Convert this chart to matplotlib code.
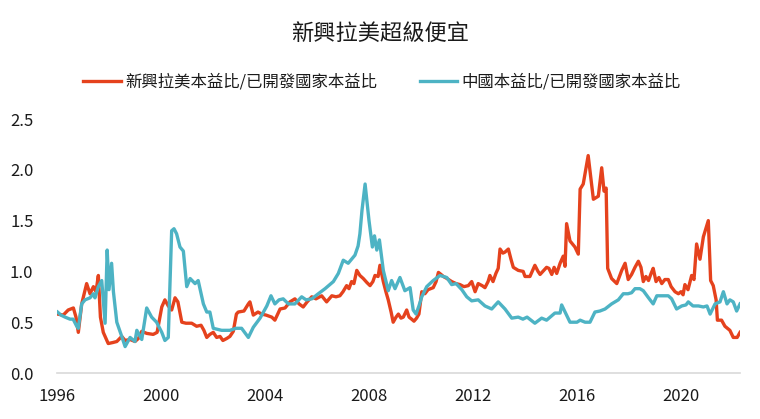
import matplotlib
matplotlib.use('Agg')
import matplotlib.pyplot as plt

plt.rcParams['font.family'] = ['Noto Sans CJK TC', 'DejaVu Sans']

# 新興拉美本益比/已開發國家本益比 (year, ratio)
latam_year = [1996.02, 1996.24, 1996.43, 1996.63, 1996.73, 1996.82, 1996.95, 1997.14, 1997.27, 1997.40,
              1997.50, 1997.59, 1997.67, 1997.78, 1997.97, 1998.15, 1998.30, 1998.49, 1998.62, 1998.81,
              1999.00, 1999.13, 1999.26, 1999.45, 1999.70, 1999.85, 2000.03, 2000.15, 2000.28, 2000.41,
              2000.54, 2000.65, 2000.80, 2000.96, 2001.18, 2001.37, 2001.54, 2001.65, 2001.76, 2001.88,
              2002.01, 2002.14, 2002.27, 2002.38, 2002.53, 2002.65, 2002.78, 2002.90, 2002.97, 2003.19,
              2003.36, 2003.42, 2003.55, 2003.73, 2003.87, 2004.04, 2004.26, 2004.38, 2004.58, 2004.77,
              2004.96, 2005.15, 2005.31, 2005.47, 2005.62, 2005.80, 2005.96, 2006.18, 2006.37, 2006.57,
              2006.73, 2006.88, 2007.00, 2007.14, 2007.23, 2007.33, 2007.42, 2007.53, 2007.65, 2007.78,
              2007.92, 2008.04, 2008.15, 2008.23, 2008.35, 2008.42, 2008.55, 2008.65, 2008.74, 2008.85,
              2008.93, 2009.04, 2009.13, 2009.23, 2009.32, 2009.45, 2009.54, 2009.64, 2009.73, 2009.83,
              2009.92, 2010.03, 2010.15, 2010.27, 2010.47, 2010.58, 2010.67, 2010.77, 2010.86, 2011.00,
              2011.18, 2011.35, 2011.50, 2011.65, 2011.82, 2011.95, 2012.08, 2012.20, 2012.35, 2012.46,
              2012.58, 2012.65, 2012.77, 2012.88, 2012.97, 2013.04, 2013.15, 2013.23, 2013.36, 2013.46,
              2013.55, 2013.74, 2013.93, 2014.00, 2014.19, 2014.38, 2014.50, 2014.58, 2014.83, 2014.92,
              2015.03, 2015.12, 2015.22, 2015.35, 2015.47, 2015.54, 2015.60, 2015.73, 2015.92, 2016.05,
              2016.12, 2016.24, 2016.43, 2016.63, 2016.82, 2016.95, 2017.04, 2017.12, 2017.18, 2017.33,
              2017.53, 2017.72, 2017.85, 2017.97, 2018.10, 2018.23, 2018.36, 2018.46, 2018.55, 2018.65,
              2018.75, 2018.85, 2018.93, 2019.04, 2019.15, 2019.26, 2019.38, 2019.51, 2019.62, 2019.77,
              2019.90, 2020.00, 2020.08, 2020.15, 2020.27, 2020.41, 2020.50, 2020.60, 2020.73, 2020.86,
              2021.05, 2021.14, 2021.24, 2021.35, 2021.40, 2021.56, 2021.69, 2021.88, 2022.01, 2022.16,
              2022.27]
latam_pe = [0.58, 0.57, 0.62, 0.64, 0.55, 0.40, 0.68, 0.88, 0.78, 0.85,
            0.80, 0.96, 0.55, 0.40, 0.29, 0.30, 0.31, 0.36, 0.32, 0.33,
            0.31, 0.34, 0.41, 0.39, 0.38, 0.40, 0.65, 0.72, 0.66, 0.62,
            0.74, 0.70, 0.50, 0.49, 0.49, 0.46, 0.47, 0.42, 0.35, 0.38,
            0.40, 0.35, 0.36, 0.32, 0.34, 0.36, 0.41, 0.58, 0.60, 0.61,
            0.68, 0.70, 0.57, 0.60, 0.58, 0.57, 0.55, 0.52, 0.63, 0.64,
            0.70, 0.73, 0.68, 0.65, 0.70, 0.75, 0.73, 0.76, 0.70, 0.76,
            0.75, 0.76, 0.80, 0.86, 0.83, 0.90, 0.88, 1.01, 0.96, 0.93,
            0.89, 0.86, 0.90, 0.96, 0.95, 1.06, 0.90, 0.80, 0.72, 0.60,
            0.50, 0.55, 0.58, 0.54, 0.55, 0.62, 0.55, 0.53, 0.51, 0.54,
            0.58, 0.80, 0.78, 0.82, 0.84, 0.90, 0.99, 0.97, 0.95, 0.93,
            0.90, 0.88, 0.87, 0.85, 0.86, 0.90, 0.80, 0.88, 0.86, 0.84,
            0.90, 0.96, 0.90, 0.98, 1.03, 1.22, 1.18, 1.19, 1.22, 1.12,
            1.04, 1.01, 1.00, 0.95, 0.95, 1.06, 1.00, 0.97, 1.04, 1.03,
            0.97, 1.04, 0.98, 1.08, 1.15, 1.05, 1.47, 1.30, 1.24, 1.17,
            1.81, 1.86, 2.14, 1.71, 1.74, 2.02, 1.79, 1.82, 1.03, 0.93,
            0.88, 1.01, 1.08, 0.92, 0.97, 1.04, 1.10, 1.04, 0.90, 0.95,
            0.91, 0.98, 1.03, 0.90, 0.94, 0.88, 0.92, 0.92, 0.85, 0.80,
            0.78, 0.80, 0.77, 0.87, 0.82, 0.96, 0.92, 1.27, 1.12, 1.34,
            1.50, 0.91, 0.86, 0.72, 0.52, 0.52, 0.46, 0.42, 0.35, 0.35,
            0.40]

# 中國本益比/已開發國家本益比 (year, ratio)
china_year = [1996.02, 1996.15, 1996.31, 1996.50, 1996.62, 1996.76, 1996.82, 1996.95, 1997.08, 1997.27,
              1997.40, 1997.46, 1997.59, 1997.72, 1997.85, 1997.93, 1998.00, 1998.10, 1998.17, 1998.30,
              1998.49, 1998.62, 1998.81, 1999.00, 1999.07, 1999.26, 1999.45, 1999.64, 1999.83, 2000.03,
              2000.15, 2000.28, 2000.41, 2000.50, 2000.60, 2000.73, 2000.86, 2000.99, 2001.12, 2001.31,
              2001.43, 2001.63, 2001.76, 2001.88, 2002.01, 2002.33, 2002.65, 2002.88, 2003.10, 2003.36,
              2003.55, 2003.81, 2004.07, 2004.23, 2004.38, 2004.54, 2004.70, 2004.90, 2005.15, 2005.41,
              2005.58, 2005.80, 2006.05, 2006.31, 2006.63, 2006.82, 2007.01, 2007.20, 2007.46, 2007.58,
              2007.65, 2007.73, 2007.85, 2008.00, 2008.13, 2008.21, 2008.30, 2008.40, 2008.55, 2008.74,
              2008.87, 2009.00, 2009.19, 2009.38, 2009.58, 2009.70, 2009.81, 2009.92, 2010.03, 2010.22,
              2010.47, 2010.73, 2010.99, 2011.18, 2011.35, 2011.57, 2011.76, 2011.95, 2012.20, 2012.46,
              2012.72, 2012.97, 2013.23, 2013.49, 2013.74, 2013.92, 2014.08, 2014.23, 2014.38, 2014.64,
              2014.83, 2015.15, 2015.35, 2015.41, 2015.54, 2015.73, 2016.00, 2016.12, 2016.31, 2016.50,
              2016.69, 2016.88, 2017.08, 2017.33, 2017.59, 2017.78, 2017.96, 2018.10, 2018.23, 2018.42,
              2018.55, 2018.75, 2018.93, 2019.07, 2019.32, 2019.51, 2019.64, 2019.83, 2020.03, 2020.19,
              2020.28, 2020.46, 2020.67, 2020.86, 2021.00, 2021.12, 2021.31, 2021.50, 2021.63, 2021.77,
              2021.88, 2022.01, 2022.14, 2022.27]
china_pe = [0.60, 0.57, 0.55, 0.53, 0.53, 0.46, 0.44, 0.68, 0.72, 0.74,
            0.78, 0.74, 0.85, 0.91, 0.49, 1.21, 0.82, 1.08, 0.80, 0.50,
            0.36, 0.26, 0.35, 0.31, 0.42, 0.33, 0.64, 0.55, 0.50, 0.40,
            0.32, 0.35, 1.40, 1.42, 1.37, 1.24, 1.20, 0.85, 0.93, 0.88,
            0.91, 0.68, 0.60, 0.60, 0.44, 0.42, 0.42, 0.44, 0.44, 0.35,
            0.45, 0.54, 0.66, 0.76, 0.68, 0.72, 0.73, 0.68, 0.68, 0.75,
            0.72, 0.73, 0.78, 0.83, 0.90, 0.98, 1.11, 1.08, 1.16, 1.25,
            1.37, 1.60, 1.86, 1.50, 1.24, 1.35, 1.21, 1.31, 1.01, 0.81,
            0.91, 0.83, 0.94, 0.81, 0.84, 0.62, 0.58, 0.66, 0.75, 0.85,
            0.91, 0.96, 0.94, 0.87, 0.88, 0.82, 0.75, 0.71, 0.72, 0.66,
            0.63, 0.70, 0.63, 0.54, 0.55, 0.53, 0.55, 0.52, 0.49, 0.54,
            0.52, 0.59, 0.59, 0.67, 0.60, 0.50, 0.50, 0.52, 0.50, 0.50,
            0.60, 0.61, 0.63, 0.68, 0.72, 0.78, 0.78, 0.79, 0.83, 0.83,
            0.81, 0.74, 0.68, 0.76, 0.76, 0.76, 0.73, 0.63, 0.66, 0.67,
            0.70, 0.66, 0.66, 0.65, 0.66, 0.58, 0.68, 0.70, 0.80, 0.68,
            0.72, 0.70, 0.61, 0.68]

year_ticks = [1996, 2000, 2004, 2008, 2012, 2016, 2020]
value_ticks = [0.0, 0.5, 1.0, 1.5, 2.0, 2.5]

fig = plt.figure(figsize=(7.6, 4.19), dpi=100)
ax = fig.add_axes([57 / 760, 46 / 419, 683 / 760, 254 / 419])

ax.plot(latam_year, latam_pe, color='#E5421D', linewidth=2.4,
        label='新興拉美本益比/已開發國家本益比', solid_joinstyle='round')
ax.plot(china_year, china_pe, color='#4DB3C4', linewidth=2.4,
        label='中國本益比/已開發國家本益比', solid_joinstyle='round')

ax.set_xlim(1996, 1996 + 683 / 26)
ax.set_ylim(0, 2.5)
ax.set_xticks(year_ticks)
ax.set_xticklabels([str(y) for y in year_ticks])
ax.set_yticks(value_ticks)
ax.set_yticklabels(['%.1f' % v for v in value_ticks])
ax.tick_params(axis='both', length=0, labelsize=12, colors='#1a1a1a')
ax.tick_params(axis='y', pad=17)
ax.tick_params(axis='x', pad=11)

for side in ['top', 'right', 'left']:
    ax.spines[side].set_visible(False)
ax.spines['bottom'].set_color('#d9d9d9')
ax.spines['bottom'].set_linewidth(1.2)

fig.text(0.5, 1 - 33 / 419, '新興拉美超級便宜', ha='center', va='center',
         fontsize=16, color='#1a1a1a', fontweight='medium')

fig.legend(loc='center', bbox_to_anchor=(382 / 760, 1 - 82 / 419), ncol=2,
           frameon=False, fontsize=11.8, handlelength=2.3, handletextpad=0.25,
           columnspacing=2.6, borderpad=0, labelcolor='#1a1a1a')

fig.savefig('out.png', dpi=100)
